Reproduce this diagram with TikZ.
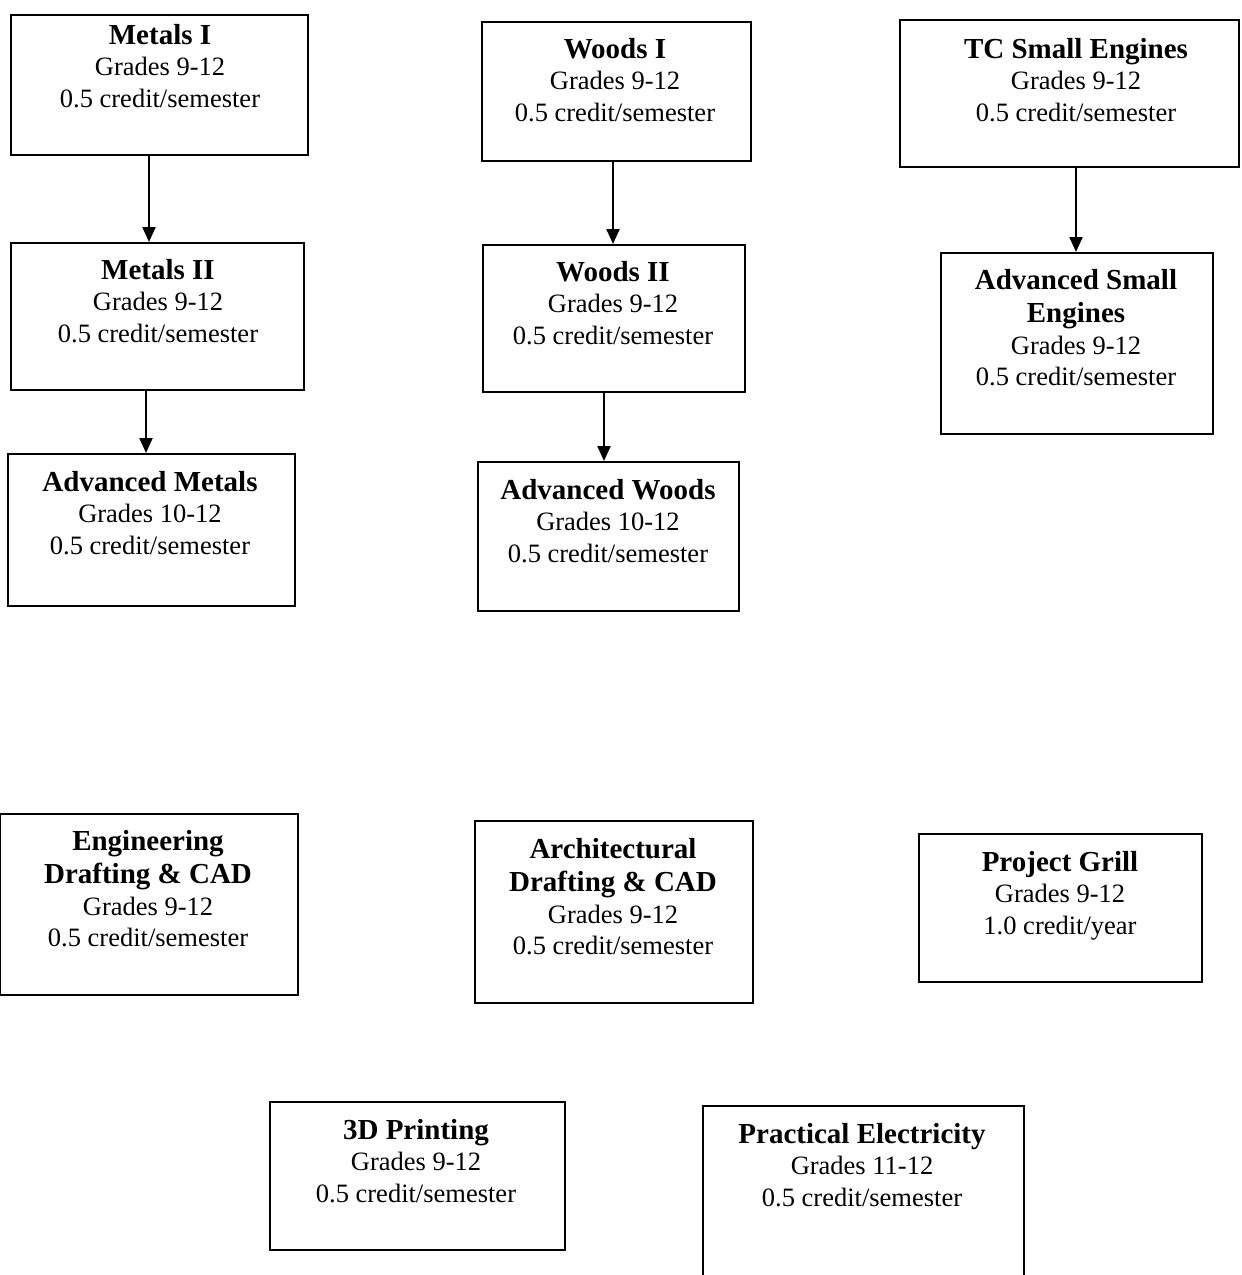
\documentclass[tikz,border=0pt]{standalone}
\usepackage{fontspec}
\setmainfont{Liberation Serif}
\usetikzlibrary{arrows.meta}
\tikzset{
  cbox/.style={draw=black, line width=1.5pt, fill=none, inner sep=0pt},
  ctext/.style={align=center, inner sep=0pt, font=\fontsize{26.5}{31.5}\selectfont},
  arr/.style={line width=2.2pt, -{Triangle[length=15pt,width=13pt]}},
}
\newcommand{\hd}[1]{{\fontsize{29}{31.5}\selectfont\bfseries #1}}
\newcommand{\coursebox}[8]{%
  \node[cbox, minimum width={#4-#2}, minimum height={#5-#3}, anchor=north west] (#1) at (#2,#3) {};
  \node[ctext, anchor=north] (#1t) at (#6,#7) {#8};
}
\begin{document}
\begin{tikzpicture}[x=1pt,y=-1pt]
\useasboundingbox (0,0) rectangle (1242,1275);
\clip (0,0) rectangle (1242,1275);
\fill[white] (0,0) rectangle (1242,1275);

\coursebox{m1}{10}{14}{307}{154}{160}{24}{\hd{Metals I}\\Grades 9-12\\0.5 credit/semester}
\coursebox{w1}{481}{21}{750}{160}{615}{38}{\hd{Woods I}\\Grades 9-12\\0.5 credit/semester}
\coursebox{tc}{899}{19}{1238}{166}{1076}{38}{\hd{TC Small Engines}\\Grades 9-12\\0.5 credit/semester}
\coursebox{m2}{10}{242}{303}{389}{158}{259}{\hd{Metals II}\\Grades 9-12\\0.5 credit/semester}
\coursebox{w2}{482}{244}{744}{391}{613}{261}{\hd{Woods II}\\Grades 9-12\\0.5 credit/semester}
\coursebox{ase}{940}{252}{1212}{433}{1076}{269}{\hd{Advanced Small}\\[2pt]\hd{Engines}\\Grades 9-12\\0.5 credit/semester}
\coursebox{am}{7}{453}{294}{605}{150}{471}{\hd{Advanced Metals}\\Grades 10-12\\0.5 credit/semester}
\coursebox{aw}{477}{461}{738}{610}{608}{479}{\hd{Advanced Woods}\\Grades 10-12\\0.5 credit/semester}
\coursebox{eng}{-1}{813}{297}{994}{148}{830}{\hd{Engineering}\\[2pt]\hd{Drafting \& CAD}\\Grades 9-12\\0.5 credit/semester}
\coursebox{arch}{474}{820}{752}{1002}{613}{838}{\hd{Architectural}\\[2pt]\hd{Drafting \& CAD}\\Grades 9-12\\0.5 credit/semester}
\coursebox{pg}{918}{833}{1201}{981}{1060}{851}{\hd{Project Grill}\\Grades 9-12\\1.0 credit/year}
\coursebox{pd}{269}{1101}{564}{1249}{416}{1119}{\hd{3D Printing}\\Grades 9-12\\0.5 credit/semester}
\coursebox{pe}{702}{1105}{1023}{1295}{862}{1123}{\hd{Practical Electricity}\\Grades 11-12\\0.5 credit/semester}

\draw[arr] (m1.south -| 149,0) -- (m2.north -| 149,0);
\draw[arr] (m2.south -| 146,0) -- (am.north -| 146,0);
\draw[arr] (w1.south -| 613,0) -- (w2.north -| 613,0);
\draw[arr] (w2.south -| 604,0) -- (aw.north -| 604,0);
\draw[arr] (tc.south -| 1076,0) -- (ase.north -| 1076,0);
\end{tikzpicture}
\end{document}
